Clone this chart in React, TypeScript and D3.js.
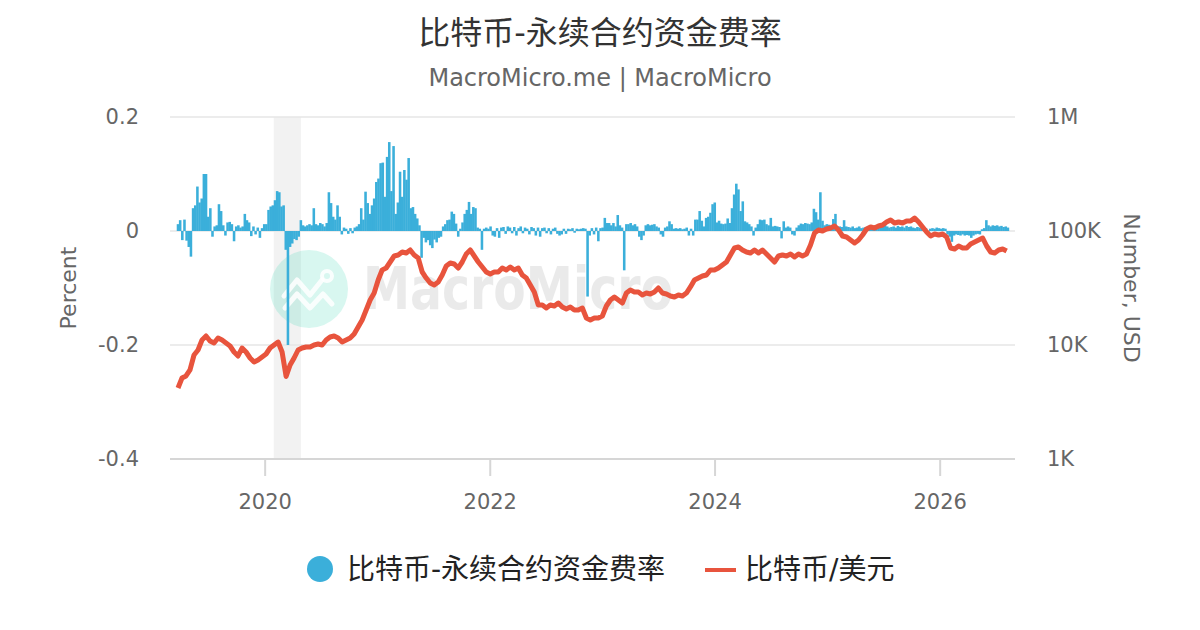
import * as d3 from "d3";

// funding rate, weekly samples (percent)
const fundingStart = "2019-03-24";
const fundingStepDays = 7;
const fundingRate: number[] = [
  0.012, 0.019, -0.016, 0.02, -0.017, -0.028, -0.045, 0.04, 0.045, 0.078,
  0.05, 0.057, 0.1, 0.1, 0.025, 0.04, -0.01, 0.008, 0.01, 0.047,
  0.035, 0.01, -0.008, 0.015, 0.016, 0.012, -0.018, 0.008, 0.01, 0.006,
  0.008, 0.03, 0.019, 0.015, -0.009, 0.008, -0.006, 0.006, -0.012, 0.005,
  0.012, 0.012, 0.037, 0.043, 0.045, 0.054, 0.07, 0.068, 0.043, 0.045,
  -0.033, -0.2, -0.028, -0.022, -0.014, -0.016, -0.01, 0.019, 0.01, 0.008,
  0.01, 0.012, 0.01, 0.04, 0.012, 0.01, 0.014, 0.012, 0.008, 0.014,
  0.068, 0.049, 0.025, 0.02, 0.045, 0.025, -0.006, 0.006, 0.004, -0.005,
  0.005, -0.004, 0.006, 0.008, 0.012, 0.04, 0.02, 0.069, 0.049, 0.03,
  0.045, 0.057, 0.086, 0.092, 0.119, 0.12, 0.06, 0.13, 0.156, 0.07,
  0.149, 0.03, 0.05, 0.104, 0.06, 0.107, 0.09, 0.128, 0.04, 0.042,
  0.03, 0.022, 0.01, -0.047, -0.012, -0.02, -0.016, -0.025, -0.03, -0.015,
  -0.02, -0.012, -0.01, 0.008, 0.012, 0.019, 0.02, 0.034, 0.03, 0.013,
  -0.01, 0.004, 0.015, 0.03, 0.037, 0.051, 0.03, 0.042, 0.04, 0.006,
  0.004, -0.033, 0.004, 0.006, 0.004, 0.008, -0.008, -0.01, 0.005, -0.012,
  0.006, 0.007, -0.005, 0.008, 0.006, -0.004, 0.007, -0.008, 0.005, 0.008,
  -0.004, 0.006, 0.004, -0.006, 0.007, 0.005, -0.008, 0.006, -0.01, 0.005,
  0.006, -0.004, 0.005, -0.006, 0.004, 0.006, -0.005, -0.008, -0.006, 0.004,
  -0.005, 0.004, 0.003, 0.005, -0.003, 0.004, 0.003, 0.004, 0.005, 0.004,
  -0.115, -0.008, 0.005, -0.006, 0.006, -0.018, 0.005, 0.006, 0.023, 0.014,
  0.014, 0.01, 0.014, 0.008, 0.028, 0.01, 0.006, -0.069, 0.012, 0.012,
  0.014, 0.01, 0.012, 0.008, -0.01, -0.016, -0.008, 0.01, 0.012, 0.01,
  0.011, 0.012, 0.008, 0.006, -0.006, -0.01, 0.006, 0.008, 0.017, 0.012,
  0.004, 0.005, 0.004, 0.005, 0.003, 0.004, 0.006, -0.008, 0.004, -0.008,
  0.02, 0.02, 0.035, 0.018, 0.008, 0.023, 0.025, 0.032, 0.047, 0.05,
  0.015, 0.018, 0.013, 0.012, 0.013, 0.022, 0.014, 0.04, 0.064, 0.083,
  0.073, 0.035, 0.052, 0.017, 0.015, 0.012, 0.008, -0.008, 0.006, 0.012,
  0.02, 0.019, 0.02, 0.012, 0.01, 0.023, 0.008, 0.009, 0.008, 0.007,
  -0.013, 0.017, 0.006, 0.008, 0.006, -0.006, -0.008, 0.006, 0.01, 0.013,
  0.012, 0.014, 0.013, 0.012, 0.015, 0.039, 0.033, 0.02, 0.068, 0.018,
  0.01, 0.012, 0.011, 0.009, 0.021, 0.03, 0.008, 0.008, 0.007, 0.019,
  0.008, 0.007, 0.006, 0.008, 0.005, 0.006, 0.008, 0.005, 0.006, 0.007,
  0.005, 0.006, 0.008, 0.006, 0.007, 0.01, 0.012, 0.01, 0.013, 0.008,
  0.006, 0.007, 0.008, 0.006, 0.009, 0.007, 0.008, 0.006, 0.009, 0.007,
  0.008, 0.006, 0.005, 0.007, 0.006, 0.005, 0.004, 0.005, -0.004, 0.004,
  0.005, 0.004, 0.006, 0.005, 0.004, 0.005, 0.004, -0.006, -0.01, -0.019,
  -0.008, -0.006, -0.007, -0.008, -0.006, -0.008, -0.007, -0.008, -0.012, -0.008,
  -0.006, -0.005, -0.006, 0.003, 0.005, 0.019, 0.01, 0.008, 0.01, 0.009,
  0.01, 0.008, 0.009, 0.007, 0.008, 0.006,
];

// BTC/USD, samples every 13 days
const priceStart = "2019-03-24";
const priceStepDays = 13;
const btcUsd: number[] = [
  4200, 5130, 5350, 6040, 8170, 9040, 11060, 11990, 10840, 10410,
  11520, 11060, 10410, 9800, 8680, 8010, 9410, 8680, 7690, 7090,
  7390, 7850, 8340, 9410, 10000, 10620, 8680, 5300, 6680, 7690,
  9040, 9410, 9600, 9600, 10000, 10200, 10000, 11060, 11750, 11990,
  11520, 10620, 11060, 11520, 12490, 14390, 16570, 20280, 24810, 28580,
  37170, 45500, 47360, 53460, 60350, 61600, 65440, 64120, 68130, 61600,
  57960, 43690, 38690, 34980, 33600, 35690, 41110, 49320, 52400, 51340,
  47360, 53460, 62850, 68130, 60350, 53460, 48330, 43690, 41960, 43690,
  43690, 47360, 45500, 48330, 45500, 47360, 41110, 38690, 33600, 29170,
  22430, 22430, 21110, 22430, 21990, 23360, 21540, 20690, 21540, 20280,
  20280, 21110, 17260, 16570, 17260, 17260, 17970, 21990, 24810, 26370,
  24810, 23360, 28580, 30380, 29170, 29170, 27460, 28580, 28020, 29170,
  31620, 28580, 28020, 26910, 26370, 27460, 26910, 28580, 32280, 37170,
  38690, 40300, 41110, 45500, 45500, 47360, 50340, 53460, 61600, 70960,
  72400, 68130, 65440, 64120, 68130, 64120, 68130, 62850, 57960, 53460,
  60350, 61600, 60350, 62850, 59140, 62850, 60350, 62850, 75390, 96020,
  102000, 100000, 104100, 106200, 110600, 102000, 90400, 88600, 83370, 78480,
  83370, 92240, 104100, 108400, 106200, 110600, 112900, 119900, 124900, 117500,
  119900, 117500, 122400, 122400, 130000, 119900, 108400, 98000, 90400, 94130,
  92240, 94130, 88600, 70960, 69530, 73870, 70960, 70960, 76920, 80080,
  83370, 86820, 73870, 65440, 64120, 68130, 69530, 66770,
];

const yearTicks = [2020, 2022, 2024, 2026];
const leftTicks = [0.2, 0, -0.2, -0.4];
const leftTickLabels = ["0.2", "0", "-0.2", "-0.4"];
const rightTicks = [1e6, 1e5, 1e4, 1e3];
const rightTickLabels = ["1M", "100K", "10K", "1K"];
const shadeBand = ["2020-01-29", "2020-04-26"];
const xDomain = ["2019-02-26", "2026-09-01"];

const TITLE = "比特币-永续合约资金费率";
const SUBTITLE = "MacroMicro.me | MacroMicro";
const SERIES_BAR = "比特币-永续合约资金费率";
const SERIES_LINE = "比特币/美元";

const BLUE = "#3bafda";
const RED = "#e8543d";
const FONT = "'DejaVu Sans', 'Noto Sans CJK SC', sans-serif";

const W = 1200;
const H = 630;
const plot = { left: 170, right: 1015, top: 117, bottom: 459 };

export default function App() {
  const parse = d3.utcParse("%Y-%m-%d");
  const x = d3
    .scaleUtc()
    .domain(xDomain.map((d) => parse(d)!))
    .range([plot.left, plot.right]);
  const yL = d3.scaleLinear().domain([-0.4, 0.2]).range([plot.bottom, plot.top]);
  const yR = d3.scaleLog().domain([1e3, 1e6]).range([plot.bottom, plot.top]);

  const fStart = parse(fundingStart)!;
  const bars = fundingRate.map((v, i) => ({
    date: d3.utcDay.offset(fStart, i * fundingStepDays),
    v,
  }));
  const pStart = parse(priceStart)!;
  const prices = btcUsd.map((v, i) => ({
    date: d3.utcDay.offset(pStart, i * priceStepDays),
    v,
  }));

  const bw = x(d3.utcDay.offset(fStart, fundingStepDays)) - x(fStart) + 0.4;
  const line = d3
    .line<{ date: Date; v: number }>()
    .x((d) => x(d.date))
    .y((d) => yR(d.v));

  const bandX0 = x(parse(shadeBand[0])!);
  const bandX1 = x(parse(shadeBand[1])!);

  return (
    <div style={{ position: "fixed", left: 0, top: 0 }}>
      <svg width={W} height={H} style={{ display: "block", background: "#fff" }} fontFamily={FONT}>
        <text x={600} y={33} textAnchor="middle" dominantBaseline="central" fontSize={32} fill="#333">
          {TITLE}
        </text>
        <text x={600} y={78} textAnchor="middle" dominantBaseline="central" fontSize={24} fill="#666">
          {SUBTITLE}
        </text>

        {/* recession band */}
        <rect x={bandX0} y={plot.top} width={bandX1 - bandX0} height={plot.bottom - plot.top} fill="#f2f2f2" />

        {/* grid */}
        {leftTicks.map((t) => (
          <line key={t} x1={plot.left} x2={plot.right} y1={yL(t)} y2={yL(t)} stroke="#e6e6e6" strokeWidth={1.6} />
        ))}

        {/* watermark */}
        <g>
          <circle cx={309} cy={289} r={39} fill="#3ad6b4" opacity={0.2} />
          <polyline
            points="284,296 297,280 310,295 322,280"
            fill="none"
            stroke="#fff"
            strokeWidth={5}
            strokeLinecap="round"
            strokeLinejoin="round"
            opacity={0.85}
          />
          <polyline
            points="285,308 297,294 310,308 323,294 332,304"
            fill="none"
            stroke="#fff"
            strokeWidth={5}
            strokeLinecap="round"
            strokeLinejoin="round"
            opacity={0.85}
          />
          <circle cx={327} cy={276} r={5} fill="none" stroke="#fff" strokeWidth={4} opacity={0.85} />
          <text
            x={363}
            y={309}
            fontSize={58}
            fontWeight="bold"
            fill="#000"
            opacity={0.08}
            textLength={310}
            lengthAdjust="spacingAndGlyphs"
            fontFamily="'DejaVu Sans', sans-serif"
          >
            MacroMicro
          </text>
        </g>

        {/* x axis */}
        <line x1={plot.left} x2={plot.right} y1={plot.bottom} y2={plot.bottom} stroke="#d6d6d6" strokeWidth={2} />
        {yearTicks.map((yr) => {
          const px = x(new Date(Date.UTC(yr, 0, 1)));
          return (
            <g key={yr}>
              <line x1={px} x2={px} y1={plot.bottom} y2={plot.bottom + 17} stroke="#d6d6d6" strokeWidth={2} />
              <text x={px} y={502} textAnchor="middle" dominantBaseline="central" fontSize={21} fill="#666">
                {yr}
              </text>
            </g>
          );
        })}

        {/* left axis */}
        {leftTicks.map((t, i) => (
          <text key={t} x={139} y={yL(t)} textAnchor="end" dominantBaseline="central" fontSize={21} fill="#666">
            {leftTickLabels[i]}
          </text>
        ))}
        <text
          transform={`translate(68,${(plot.top + plot.bottom) / 2}) rotate(-90)`}
          textAnchor="middle"
          dominantBaseline="central"
          fontSize={22}
          fill="#666"
        >
          Percent
        </text>

        {/* right axis */}
        {rightTicks.map((t, i) => (
          <text key={t} x={1047} y={yR(t)} textAnchor="start" dominantBaseline="central" fontSize={21} fill="#666">
            {rightTickLabels[i]}
          </text>
        ))}
        <text
          transform={`translate(1131,${(plot.top + plot.bottom) / 2}) rotate(90)`}
          textAnchor="middle"
          dominantBaseline="central"
          fontSize={22}
          fill="#666"
        >
          Number, USD
        </text>

        {/* funding rate bars */}
        <g fill={BLUE}>
          {bars.map((d, i) => {
            const y0 = yL(0);
            const y1 = yL(d.v);
            return (
              <rect
                key={i}
                x={x(d.date) - bw / 2}
                y={Math.min(y0, y1)}
                width={bw}
                height={Math.abs(y1 - y0)}
              />
            );
          })}
        </g>

        {/* price line */}
        <path d={line(prices) ?? ""} fill="none" stroke={RED} strokeWidth={5} strokeLinejoin="round" />

        {/* legend */}
        <circle cx={320} cy={569} r={13} fill={BLUE} />
        <text x={347} y={569} dominantBaseline="central" fontSize={28} fill="#222">
          {SERIES_BAR}
        </text>
        <line x1={705} x2={736} y1={570} y2={570} stroke={RED} strokeWidth={4} />
        <text x={745} y={569} dominantBaseline="central" fontSize={28} fill="#222">
          {SERIES_LINE}
        </text>
      </svg>
    </div>
  );
}
